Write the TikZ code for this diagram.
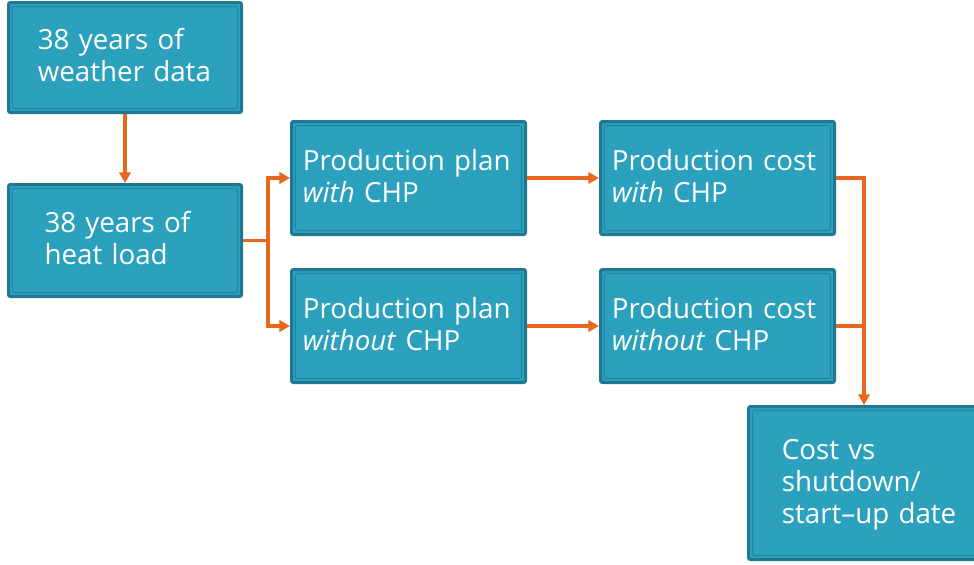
\documentclass[tikz,border=0pt]{standalone}
\usepackage{fontspec}
\setmainfont{Open Sans}
\usetikzlibrary{arrows.meta,calc}

\definecolor{boxfill}{HTML}{2CA1BE}
\definecolor{boxedge}{HTML}{1F7891}
\definecolor{boxinner}{HTML}{23869F}
\definecolor{flow}{HTML}{E8671E}

% a slightly taller strut for the first line of each box
\newcommand{\boxtopstrut}{\rule{0pt}{19.8pt}}

\tikzset{
  box/.style={
    draw=boxedge, line width=2.25pt, fill=boxfill, rounded corners=1.5pt,
    text=white, align=left, inner ysep=0pt,
    font=\fontsize{20.8}{24}\selectfont,
    execute at begin node=\boxtopstrut, execute at end node=\strut,
    path picture={
      \draw[boxinner, line width=0.8pt]
        ([shift={(3pt,-3pt)}]path picture bounding box.north west)
        rectangle
        ([shift={(-3pt,3pt)}]path picture bounding box.south east);
    }
  },
  flowline/.style={draw=flow, line width=2.4pt, line join=miter},
  flowarrow/.style={flowline, -{Triangle[length=8pt,width=8.5pt]}}
}

\begin{document}
\begin{tikzpicture}[x=0.75pt, y=-0.75pt]
  \useasboundingbox (0,0) rectangle (974,564);

  % input data
  \node[box, minimum height=82.5pt, inner xsep=22pt, text width=130.75pt]
    (weather) at (125,57.5) {38 years of\\weather data};
  \node[box, minimum height=84pt, inner xsep=27pt, text width=120.75pt]
    (heat) at (125,240.5) {38 years of\\heat load};

  % production plans
  \node[box, minimum height=84.75pt, inner xsep=8.5pt, text width=158.5pt]
    (planwith) at (408.5,178) {Production plan\\\textit{with} CHP};
  \node[box, minimum height=84.75pt, inner xsep=8.5pt, text width=158.5pt]
    (planwithout) at (408.5,326) {Production plan\\\textit{without} CHP};

  % production costs
  \node[box, minimum height=84.75pt, inner xsep=8.5pt, text width=158.5pt]
    (costwith) at (717.5,178) {Production cost\\\textit{with} CHP};
  \node[box, minimum height=84.75pt, inner xsep=8.5pt, text width=158.5pt]
    (costwithout) at (717.5,326) {Production cost\\\textit{without} CHP};

  % result
  \node[box, minimum height=114.75pt, inner xsep=25pt, text width=137.5pt]
    (result) at (873.5,483) {Cost vs\\shutdown/\\start–up date};

  % junction points
  \coordinate (split) at (268,240.5);
  \coordinate (merge) at (864,178);

  % connectors
  \draw[flowarrow] (weather) -- (heat);
  \draw[flowline] (heat.east) -- (split);
  \draw[flowarrow] (split) |- (planwith.west);
  \draw[flowarrow] (split) |- (planwithout.west);
  \draw[flowarrow] (planwith) -- (costwith);
  \draw[flowarrow] (planwithout) -- (costwithout);
  \draw[flowarrow] (costwith.east) -| (result.north -| merge);
  \draw[flowline] (costwithout.east) -- (costwithout.east -| merge);
\end{tikzpicture}
\end{document}
